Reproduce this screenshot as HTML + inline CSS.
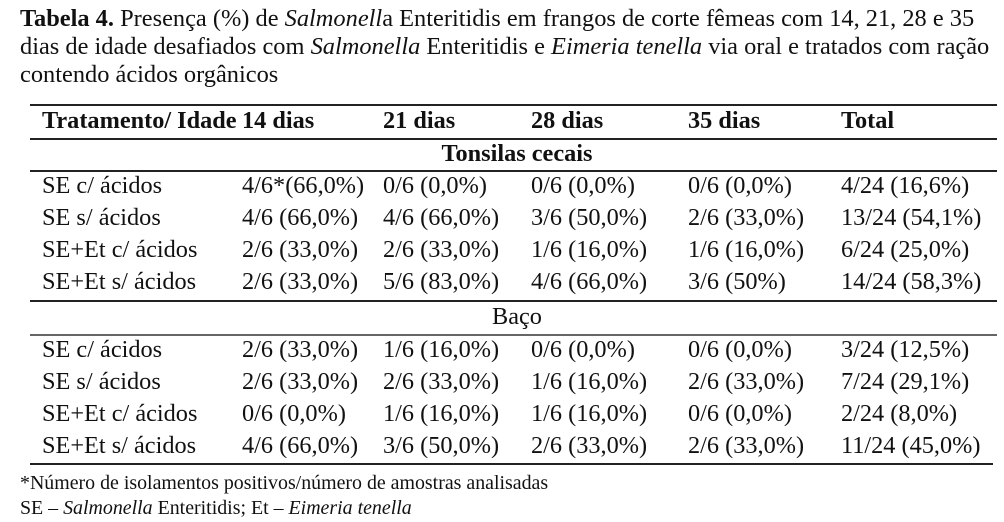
<!DOCTYPE html>
<html><head><meta charset="utf-8"><style>
body{margin:0;width:1004px;height:522px;background:#fff;position:relative;overflow:hidden;font-family:"Liberation Serif",serif;color:#111}
.t{position:absolute;left:20px;font-size:24.4px;white-space:nowrap;line-height:28px}
.l{position:absolute;left:30px;width:967px;height:2px;background:#222}
.r{position:absolute;font-size:24.3px;white-space:nowrap;line-height:28px}
.f{position:absolute;left:20px;font-size:19.9px;white-space:nowrap;line-height:22px}
b{font-weight:bold}
</style></head><body>
<div class="t" style="top:5px"><b>Tabela 4.</b> Presença (%) de <i>Salmonell</i>a Enteritidis em frangos de corte fêmeas com 14, 21, 28 e 35</div>
<div class="t" style="top:33px">dias de idade desafiados com <i>Salmonella</i> Enteritidis e <i>Eimeria tenella</i> via oral e tratados com ração</div>
<div class="t" style="top:61px">contendo ácidos orgânicos</div>
<div class="l" style="top:104px"></div>
<div class="l" style="top:138px"></div>
<div class="l" style="top:170px"></div>
<div class="l" style="top:300px"></div>
<div class="l" style="top:334px;background:#666"></div>
<div class="l" style="top:463px;width:963px"></div>
<div id="c"></div>
<div class="f" style="top:472px">*Número de isolamentos positivos/número de amostras analisadas</div>
<div class="f" style="top:497px">SE – <i>Salmonella</i> Enteritidis; Et – <i>Eimeria tenella</i></div>
<script>
var xs=[42,242,383,531,688,841];
var h=["Tratamento/ Idade","14 dias","21 dias","28 dias","35 dias","Total"];
var s="";
function row(a,y,b){for(var i=0;i<a.length;i++)s+='<div class="r" style="left:'+xs[i]+'px;top:'+y+'px">'+(b?'<b>'+a[i]+'</b>':a[i])+'</div>';}
row(h,107,1);
s+='<div class="r" style="left:0;width:1004px;text-align:center;top:140px;padding-left:30px;box-sizing:border-box"><b>Tonsilas cecais</b></div>';
s+='<div class="r" style="left:0;width:1004px;text-align:center;top:303px;padding-left:30px;box-sizing:border-box">Baço</div>';
var A=[["SE c/ ácidos","4/6*(66,0%)","0/6 (0,0%)","0/6 (0,0%)","0/6 (0,0%)","4/24 (16,6%)"],
["SE s/ ácidos","4/6 (66,0%)","4/6 (66,0%)","3/6 (50,0%)","2/6 (33,0%)","13/24 (54,1%)"],
["SE+Et c/ ácidos","2/6 (33,0%)","2/6 (33,0%)","1/6 (16,0%)","1/6 (16,0%)","6/24 (25,0%)"],
["SE+Et s/ ácidos","2/6 (33,0%)","5/6 (83,0%)","4/6 (66,0%)","3/6 (50%)","14/24 (58,3%)"]];
var B=[["SE c/ ácidos","2/6 (33,0%)","1/6 (16,0%)","0/6 (0,0%)","0/6 (0,0%)","3/24 (12,5%)"],
["SE s/ ácidos","2/6 (33,0%)","2/6 (33,0%)","1/6 (16,0%)","2/6 (33,0%)","7/24 (29,1%)"],
["SE+Et c/ ácidos","0/6 (0,0%)","1/6 (16,0%)","1/6 (16,0%)","0/6 (0,0%)","2/24 (8,0%)"],
["SE+Et s/ ácidos","4/6 (66,0%)","3/6 (50,0%)","2/6 (33,0%)","2/6 (33,0%)","11/24 (45,0%)"]];
for(var k=0;k<4;k++)row(A[k],172+k*32);
for(var k=0;k<4;k++)row(B[k],336+k*32);
document.getElementById('c').innerHTML=s;
</script>
</body></html>
